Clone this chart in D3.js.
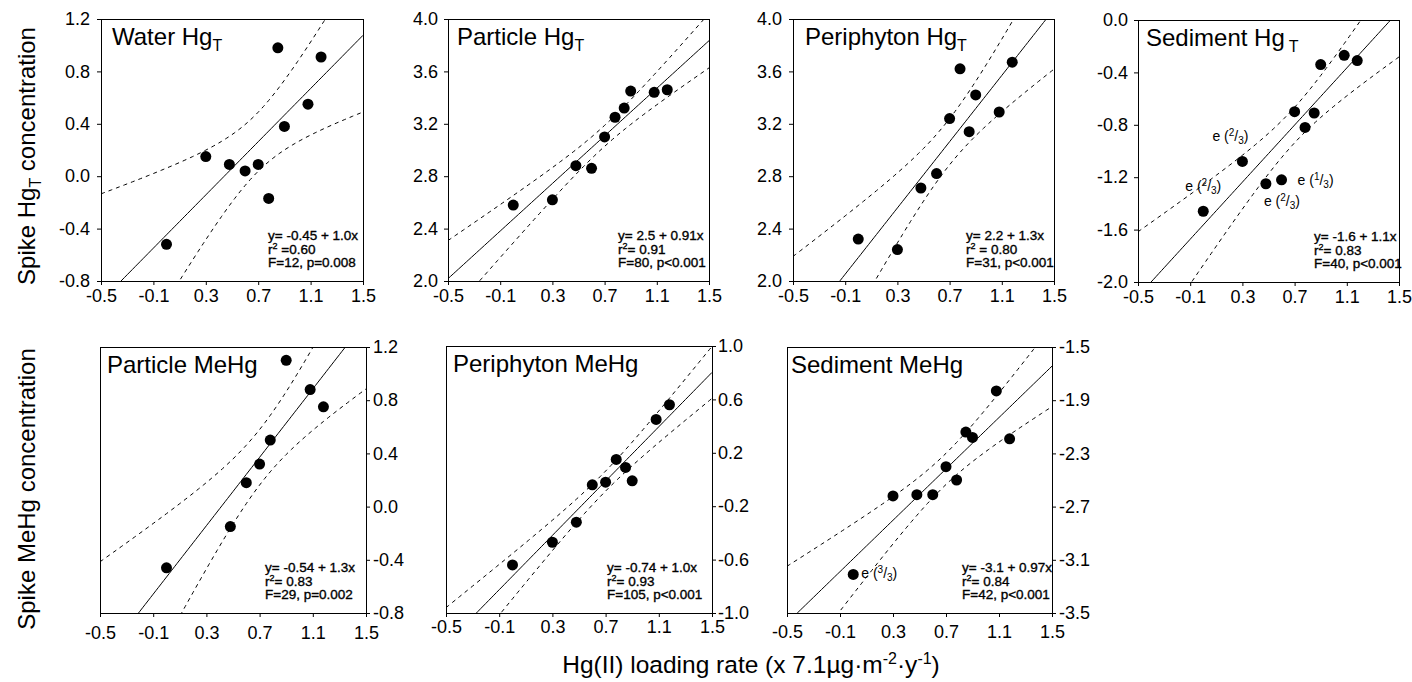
<!DOCTYPE html>
<html>
<head>
<meta charset="utf-8">
<script src="https://cdn.jsdelivr.net/npm/d3@7"></script>
<style>
  body { margin: 0; background: #fff; }
  text { font-family: "Liberation Sans", Arial, sans-serif; fill: #000; }
</style>
</head>
<body>
<div class="chartArea"></div>
<script>
let width = 1412,
    height = 682

// Hg(II) loading rate (log scale), shared by most panels
const loadX = [0.00, 0.30, 0.48, 0.60, 0.70, 0.78, 0.85, 0.90, 1.08, 1.18]
const particleMeHgX = [0.00, 0.48, 0.60, 0.70, 0.78, 0.90, 1.08, 1.18]

// spike concentrations
const waterHgT = [-0.52, 0.15, 0.09, 0.04, 0.09, -0.17, 0.98, 0.38, 0.55, 0.91]
const particleHgT = [2.58, 2.62, 2.88, 2.86, 3.10, 3.25, 3.32, 3.45, 3.44, 3.46]
const periphytonHgT = [2.32, 2.24, 2.71, 2.82, 3.24, 3.62, 3.14, 3.42, 3.29, 3.67]
const sedimentHgT = [-1.46, -1.08, -1.25, -1.22, -0.70, -0.82, -0.71, -0.34, -0.27, -0.31]
const particleMeHg = [-0.46, -0.15, 0.18, 0.32, 0.50, 1.10, 0.88, 0.75]
const periphytonMeHg = [-0.64, -0.47, -0.32, -0.04, -0.02, 0.15, 0.09, -0.01, 0.45, 0.56]
const sedimentMeHg = [-3.21, -2.62, -2.61, -2.61, -2.40, -2.50, -2.14, -2.18, -1.83, -2.19]

const panelTitles = ['Water Hg', 'Particle Hg', 'Periphyton Hg', 'Sediment Hg', 'Particle MeHg', 'Periphyton MeHg', 'Sediment MeHg']
const titleSubs = ['T', 'T', 'T', 'T', '', '', '']

const xTicks = [-0.5, -0.1, 0.3, 0.7, 1.1, 1.5]
const yTickSets = [
  [-0.8, -0.4, 0.0, 0.4, 0.8, 1.2],
  [2.0, 2.4, 2.8, 3.2, 3.6, 4.0],
  [2.0, 2.4, 2.8, 3.2, 3.6, 4.0],
  [-2.0, -1.6, -1.2, -0.8, -0.4, 0.0],
  [-0.8, -0.4, 0.0, 0.4, 0.8, 1.2],
  [-1.0, -0.6, -0.2, 0.2, 0.6, 1.0],
  [-3.5, -3.1, -2.7, -2.3, -1.9, -1.5]
]

const equations = ['y= -0.45 + 1.0x', 'y= 2.5 + 0.91x', 'y= 2.2 + 1.3x', 'y= -1.6 + 1.1x', 'y= -0.54 + 1.3x', 'y= -0.74 + 1.0x', 'y= -3.1 + 0.97x']
const r2Texts = [' =0.60', '= 0.91', ' = 0.80', '= 0.83', '= 0.83', '= 0.93', '= 0.84']
const fTexts = ['F=12, p=0.008', 'F=80, p<0.001', 'F=31, p<0.001', 'F=40, p<0.001', 'F=29, p=0.002', 'F=105, p<0.001', 'F=42, p<0.001']

// "e (n/3)" labels on some points
const estPanel = [3, 3, 3, 3, 6]
const estPoint = [1, 0, 3, 2, 0]
const estNum = ['2', '2', '1', '2', '3']
const estDen = ['3', '3', '3', '3', '3']

const yTitles = ['Spike Hg', 'Spike MeHg']

// two-sided 95% t values by degrees of freedom
const tTable = {6: 2.447, 8: 2.306}

const xValues = [loadX, loadX, loadX, loadX, particleMeHgX, loadX, loadX]
const yValues = [waterHgT, particleHgT, periphytonHgT, sedimentHgT, particleMeHg, periphytonMeHg, sedimentMeHg]

// panel placement
const layout = [
  {x: 101, y: 19, w: 262, h: 262, side: 'left', statX: 167, titleX: 11, xPad: 4, yPad: 7},
  {x: 448, y: 19, w: 261, h: 262, side: 'left', statX: 170, titleX: 9, xPad: 4, yPad: 6},
  {x: 793, y: 19, w: 261, h: 262, side: 'left', statX: 173, titleX: 12, xPad: 4, yPad: 7},
  {x: 1138, y: 20, w: 261, h: 262, side: 'left', statX: 176, titleX: 8, xPad: 4, yPad: 6},
  {x: 100, y: 347, w: 266, h: 266, side: 'right', statX: 165, titleX: 7, xPad: 9, yPad: 3},
  {x: 446, y: 346, w: 266, h: 267, side: 'right', statX: 161, titleX: 7, xPad: 3, yPad: 2},
  {x: 787, y: 347, w: 265, h: 266, side: 'right', statX: 175, titleX: 4, xPad: 8, yPad: 3}
]
const estOffsets = [[-30, -20], [-18, -20], [16, 5], [-2, 22], [8, 4]]

const fmt = d => d.toFixed(1)

// least squares fit with 95% confidence band
function fit(xs, ys) {
  const n = xs.length
  const mx = d3.mean(xs), my = d3.mean(ys)
  const sxx = d3.sum(xs, x => (x - mx) ** 2)
  const sxy = d3.sum(xs, (x, i) => (x - mx) * (ys[i] - my))
  const b = sxy / sxx, a = my - b * mx
  const sse = d3.sum(xs, (x, i) => (ys[i] - a - b * x) ** 2)
  const s = Math.sqrt(sse / (n - 2))
  return {a, b, s, n, mx, sxx}
}

const svg = d3.select('.chartArea')
    .append('svg')
    .attr('width', width)
    .attr('height', height)

svg.append('rect').attr('width', width).attr('height', height).attr('fill', '#fff')

yValues.forEach((ys, k) => {
  const L = layout[k]
  const xs = xValues[k]
  const g = svg.append('g').attr('transform', `translate(${L.x},${L.y})`)

  const xScale = d3.scaleLinear().domain([-0.5, 1.5]).range([0, L.w])
  const yScale = d3.scaleLinear().domain(d3.extent(yTickSets[k])).range([L.h, 0])

  g.append('clipPath').attr('id', 'clip' + k)
    .append('rect').attr('width', L.w).attr('height', L.h)

  // frame
  g.append('rect')
      .attr('x', 0.5).attr('y', 0.5)
      .attr('width', L.w).attr('height', L.h)
      .attr('fill', 'none')
      .attr('stroke', '#000')

  const xAxis = d3.axisBottom(xScale)
      .tickValues(xTicks).tickFormat(fmt)
      .tickSize(4).tickSizeOuter(0).tickPadding(L.xPad)
  g.append('g')
      .attr('transform', `translate(0,${L.h})`)
      .call(xAxis)
      .attr('font-size', 18).attr('font-family', null)

  let yAxis, yAxisG
  if (L.side == 'left') {
    yAxis = d3.axisLeft(yScale)
    yAxisG = g.append('g')
  } else {
    yAxis = d3.axisRight(yScale)
    yAxisG = g.append('g').attr('transform', `translate(${L.w},0)`)
  }
  yAxis.tickValues(yTickSets[k]).tickFormat(fmt)
      .tickSize(4).tickSizeOuter(0).tickPadding(L.yPad)
  yAxisG.call(yAxis).attr('font-size', 18).attr('font-family', null)

  // regression line and confidence band
  const f = fit(xs, ys)
  const tval = tTable[f.n - 2]
  const half = x => tval * f.s * Math.sqrt(1 / f.n + (x - f.mx) ** 2 / f.sxx)
  const grid = d3.range(-0.5, 1.5001, 0.02)
  const line = d3.line().x(d => xScale(d[0])).y(d => yScale(d[1]))

  const lines = g.append('g').attr('clip-path', `url(#clip${k})`)
  lines.append('path')
      .attr('d', line(grid.map(x => [x, f.a + f.b * x])))
      .attr('fill', 'none').attr('stroke', '#000').attr('stroke-width', 1)
  ;[1, -1].forEach(sgn => {
    lines.append('path')
        .attr('d', line(grid.map(x => [x, f.a + f.b * x + sgn * half(x)])))
        .attr('fill', 'none').attr('stroke', '#000').attr('stroke-width', 1)
        .attr('stroke-dasharray', '4,4')
  })

  // points
  g.selectAll('circle')
      .data(xs.map((x, i) => [x, ys[i]]))
      .enter()
      .append('circle')
      .attr('cx', d => xScale(d[0]))
      .attr('cy', d => yScale(d[1]))
      .attr('r', 5.5)
      .attr('fill', '#000')

  // panel title
  const title = g.append('text')
      .attr('x', L.titleX).attr('y', 26)
      .attr('font-size', 24)
  title.append('tspan').text(panelTitles[k])
  if (titleSubs[k]) {
    title.append('tspan').attr('font-size', 16).attr('dy', 6)
        .attr('dx', k == 3 ? 4 : 0).text(titleSubs[k])
  }

  // regression stats
  const stats = g.append('g').attr('font-size', 13.5)
      .style('stroke', '#000').style('stroke-width', 0.35)
  stats.append('text').attr('x', L.statX).attr('y', L.h - 41).text(equations[k])
  const r2 = stats.append('text').attr('x', L.statX).attr('y', L.h - 27.5)
  r2.append('tspan').text('r')
  r2.append('tspan').attr('font-size', 9).attr('dy', -5).text('2')
  r2.append('tspan').attr('dy', 5).text(r2Texts[k])
  stats.append('text').attr('x', L.statX).attr('y', L.h - 14).text(fTexts[k])

  // estimated-value labels
  estPanel.forEach((p, j) => {
    if (p != k) return
    const i = estPoint[j]
    const t = g.append('text')
        .attr('x', xScale(xs[i]) + estOffsets[j][0])
        .attr('y', yScale(ys[i]) + estOffsets[j][1])
        .attr('font-size', 14)
    t.append('tspan').text('e (')
    t.append('tspan').attr('font-size', 10).attr('dy', -5).text(estNum[j])
    t.append('tspan').attr('dy', 5).text('/')
    t.append('tspan').attr('font-size', 10).attr('dy', 3).text(estDen[j])
    t.append('tspan').attr('dy', -3).text(')')
  })
})

// y axis titles
const yCenters = [156, 489]
yTitles.forEach((txt, r) => {
  const t = svg.append('text')
      .attr('transform', `translate(35,${yCenters[r]}) rotate(-90)`)
      .attr('text-anchor', 'middle')
      .attr('font-size', 24)
  t.append('tspan').text(txt)
  if (r == 0) t.append('tspan').attr('font-size', 16).attr('dy', 6).text('T')
  t.append('tspan').attr('dy', r == 0 ? -6 : 0).text(' concentration')
})

// x axis title
const xt = svg.append('text')
    .attr('x', 751).attr('y', 673)
    .attr('text-anchor', 'middle')
    .attr('font-size', 24.5)
xt.append('tspan').text('Hg(II) loading rate (x 7.1µg·m')
xt.append('tspan').attr('font-size', 16).attr('dy', -9).text('-2')
xt.append('tspan').attr('dy', 9).text('·y')
xt.append('tspan').attr('font-size', 16).attr('dy', -9).text('-1')
xt.append('tspan').attr('dy', 9).text(')')
</script>
</body>
</html>
